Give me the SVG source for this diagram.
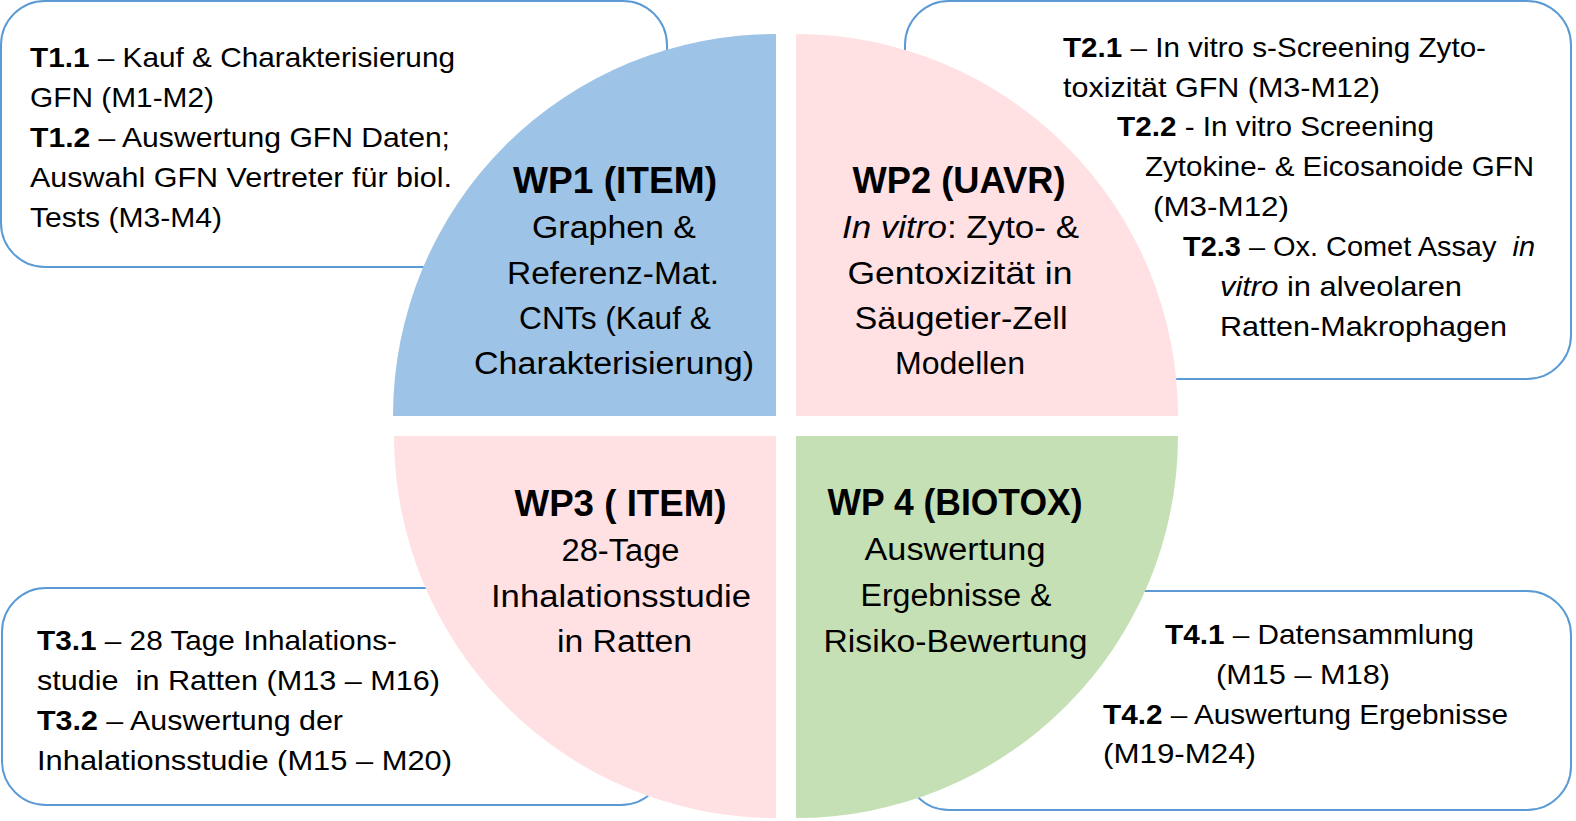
<svg xmlns="http://www.w3.org/2000/svg" width="1576" height="821" viewBox="0 0 1576 821">
<style>
text{font-family:"Liberation Sans",Arial,sans-serif;fill:#000;white-space:pre}
.t{font-size:28px}
.wt{font-size:36px;font-weight:bold;text-anchor:middle}
.ws{font-size:31px;text-anchor:middle}
.b{font-weight:bold}
.i{font-style:italic}
.box{fill:#fff;stroke:#5B9BD5;stroke-width:2}
</style>
<rect width="1576" height="821" fill="#fff"/>
<g id="box-t1"><rect class="box" x="1" y="1" width="666" height="266" rx="44" ry="44"/></g>
<g id="box-t2"><rect class="box" x="905" y="1" width="666" height="378" rx="44" ry="44"/></g>
<g id="box-t3"><rect class="box" x="2" y="588" width="663" height="217" rx="44" ry="44"/></g>
<g id="box-t4"><rect class="box" x="905" y="591" width="666" height="219" rx="44" ry="44"/></g>
<g id="wp1"><path d="M776,416 L393,416 A382,382 0 0 1 776,34 Z" fill="#9DC3E6"/></g>
<g id="wp2"><path d="M796,416 L796,34 A382,382 0 0 1 1178,416 Z" fill="#FFE1E4"/></g>
<g id="wp3"><path d="M776,436 L776,818 A382,382 0 0 1 394,436 Z" fill="#FFE1E4"/></g>
<g id="wp4"><path d="M796,436 L1178,436 A382,382 0 0 1 796,818 Z" fill="#C5E0B4"/></g>
<g id="connectors"></g>
<g id="tasks-t1">
<text class="t" x="30" y="67" textLength="425" lengthAdjust="spacingAndGlyphs"><tspan class="b">T1.1</tspan> – Kauf &amp; Charakterisierung</text>
<text class="t" x="30" y="107" textLength="184" lengthAdjust="spacingAndGlyphs">GFN (M1-M2)</text>
<text class="t" x="30" y="147" textLength="420" lengthAdjust="spacingAndGlyphs"><tspan class="b">T1.2</tspan> – Auswertung GFN Daten;</text>
<text class="t" x="30" y="187" textLength="422" lengthAdjust="spacingAndGlyphs">Auswahl GFN Vertreter für biol.</text>
<text class="t" x="30" y="227" textLength="192" lengthAdjust="spacingAndGlyphs">Tests (M3-M4)</text>
</g>
<g id="tasks-t2">
<text class="t" x="1063" y="56.5" textLength="423" lengthAdjust="spacingAndGlyphs"><tspan class="b">T2.1</tspan> – In vitro s-Screening Zyto-</text>
<text class="t" x="1063" y="96.5" textLength="317" lengthAdjust="spacingAndGlyphs">toxizität GFN (M3-M12)</text>
<text class="t" x="1117" y="136" textLength="317" lengthAdjust="spacingAndGlyphs"><tspan class="b">T2.2</tspan> - In vitro Screening</text>
<text class="t" x="1145" y="176" textLength="389" lengthAdjust="spacingAndGlyphs">Zytokine- &amp; Eicosanoide GFN</text>
<text class="t" x="1153" y="215.5" textLength="136" lengthAdjust="spacingAndGlyphs">(M3-M12)</text>
<text class="t" x="1183" y="255.5" textLength="352" lengthAdjust="spacingAndGlyphs"><tspan class="b">T2.3</tspan> – Ox. Comet Assay  <tspan class="i">in</tspan></text>
<text class="t" x="1220" y="295.5" textLength="242" lengthAdjust="spacingAndGlyphs"><tspan class="i">vitro</tspan> in alveolaren</text>
<text class="t" x="1220" y="335.5" textLength="287" lengthAdjust="spacingAndGlyphs">Ratten-Makrophagen</text>
</g>
<g id="tasks-t3">
<text class="t" x="37" y="650" textLength="360" lengthAdjust="spacingAndGlyphs"><tspan class="b">T3.1</tspan> – 28 Tage Inhalations-</text>
<text class="t" x="37" y="690" textLength="403" lengthAdjust="spacingAndGlyphs">studie  in Ratten (M13 – M16)</text>
<text class="t" x="37" y="730" textLength="306" lengthAdjust="spacingAndGlyphs"><tspan class="b">T3.2</tspan> – Auswertung der</text>
<text class="t" x="37" y="770" textLength="415" lengthAdjust="spacingAndGlyphs">Inhalationsstudie (M15 – M20)</text>
</g>
<g id="tasks-t4">
<text class="t" x="1165" y="644" textLength="309" lengthAdjust="spacingAndGlyphs"><tspan class="b">T4.1</tspan> – Datensammlung</text>
<text class="t" x="1216" y="683.5" textLength="174" lengthAdjust="spacingAndGlyphs">(M15 – M18)</text>
<text class="t" x="1103" y="723.5" textLength="405" lengthAdjust="spacingAndGlyphs"><tspan class="b">T4.2</tspan> – Auswertung Ergebnisse</text>
<text class="t" x="1103" y="763" textLength="153" lengthAdjust="spacingAndGlyphs">(M19-M24)</text>
</g>
<g id="wp1-label">
<text class="wt" x="615" y="193" textLength="204" lengthAdjust="spacingAndGlyphs">WP1 (ITEM)</text>
<text class="ws" x="614" y="238" textLength="164" lengthAdjust="spacingAndGlyphs">Graphen &amp;</text>
<text class="ws" x="613" y="283.5" textLength="212" lengthAdjust="spacingAndGlyphs">Referenz-Mat.</text>
<text class="ws" x="615" y="329" textLength="192" lengthAdjust="spacingAndGlyphs">CNTs (Kauf &amp;</text>
<text class="ws" x="614" y="374" textLength="280" lengthAdjust="spacingAndGlyphs">Charakterisierung)</text>
</g>
<g id="wp2-label">
<text class="wt" x="959" y="193" textLength="213" lengthAdjust="spacingAndGlyphs">WP2 (UAVR)</text>
<text class="ws" x="960.5" y="238" textLength="237" lengthAdjust="spacingAndGlyphs"><tspan class="i">In vitro</tspan>: Zyto- &amp;</text>
<text class="ws" x="960" y="283.5" textLength="225" lengthAdjust="spacingAndGlyphs">Gentoxizität in</text>
<text class="ws" x="961" y="329" textLength="213" lengthAdjust="spacingAndGlyphs">Säugetier-Zell</text>
<text class="ws" x="960" y="374" textLength="130" lengthAdjust="spacingAndGlyphs">Modellen</text>
</g>
<g id="wp3-label">
<text class="wt" x="620.5" y="516" textLength="212" lengthAdjust="spacingAndGlyphs">WP3 ( ITEM)</text>
<text class="ws" x="620.5" y="561" textLength="118" lengthAdjust="spacingAndGlyphs">28-Tage</text>
<text class="ws" x="621" y="607" textLength="260" lengthAdjust="spacingAndGlyphs">Inhalationsstudie</text>
<text class="ws" x="624.5" y="652" textLength="135" lengthAdjust="spacingAndGlyphs">in Ratten</text>
</g>
<g id="wp4-label">
<text class="wt" x="955" y="515" textLength="255" lengthAdjust="spacingAndGlyphs">WP 4 (BIOTOX)</text>
<text class="ws" x="955" y="560" textLength="181" lengthAdjust="spacingAndGlyphs">Auswertung</text>
<text class="ws" x="956" y="606" textLength="191" lengthAdjust="spacingAndGlyphs">Ergebnisse &amp;</text>
<text class="ws" x="955.5" y="651.5" textLength="264" lengthAdjust="spacingAndGlyphs">Risiko-Bewertung</text>
</g>
</svg>
